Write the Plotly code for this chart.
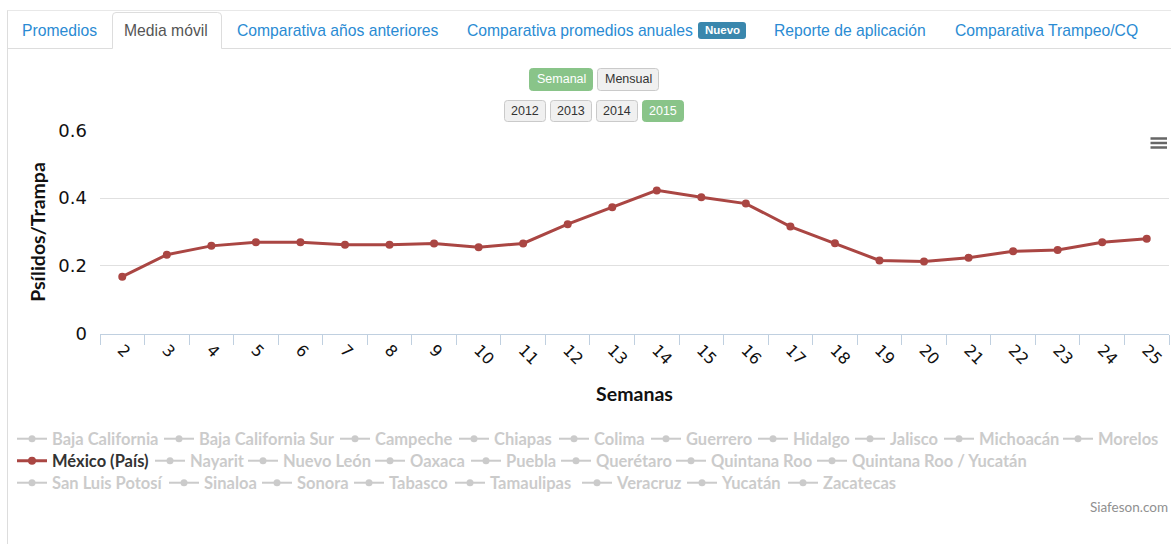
import plotly.graph_objects as go

# ---------------- data ----------------
weeks = [str(w) for w in range(2, 26)]
mexico_values = [0.168, 0.233, 0.259, 0.270, 0.270, 0.262, 0.262, 0.266, 0.255, 0.266,
                 0.323, 0.373, 0.423, 0.403, 0.384, 0.316, 0.267, 0.216, 0.213, 0.224,
                 0.243, 0.247, 0.270, 0.280]
y_tick_values = [0, 0.2, 0.4, 0.6]
y_tick_labels = ["0", "0.2", "0.4", "0.6"]

legend_row1 = ["Baja California", "Baja California Sur", "Campeche", "Chiapas", "Colima",
               "Guerrero", "Hidalgo", "Jalisco", "Michoacán", "Morelos"]
legend_row2 = ["México (País)", "Nayarit", "Nuevo León", "Oaxaca", "Puebla", "Querétaro",
               "Quintana Roo", "Quintana Roo / Yucatán"]
legend_row3 = ["San Luis Potosí", "Sinaloa", "Sonora", "Tabasco", "Tamaulipas", "Veracruz",
               "Yucatán", "Zacatecas"]
active_series = "México (País)"

tab_labels = ["Promedios", "Media móvil", "Comparativa años anteriores",
              "Comparativa promedios anuales", "Reporte de aplicación", "Comparativa Trampeo/CQ"]
period_buttons = ["Semanal", "Mensual"]
year_buttons = ["2012", "2013", "2014", "2015"]

# ---------------- layout helpers (pixel -> paper, margins are zero) ----------------
W, H = 1171, 544


def px(x):
    return x / W


def py(y):
    return 1 - y / H


def rrect(x0, y0, x1, y1, r=3):
    pts = [
        f"M {px(x0 + r)} {py(y0)}", f"L {px(x1 - r)} {py(y0)}",
        f"Q {px(x1)} {py(y0)} {px(x1)} {py(y0 + r)}", f"L {px(x1)} {py(y1 - r)}",
        f"Q {px(x1)} {py(y1)} {px(x1 - r)} {py(y1)}", f"L {px(x0 + r)} {py(y1)}",
        f"Q {px(x0)} {py(y1)} {px(x0)} {py(y1 - r)}", f"L {px(x0)} {py(y0 + r)}",
        f"Q {px(x0)} {py(y0)} {px(x0 + r)} {py(y0)}", "Z",
    ]
    return " ".join(pts)


RED = "#AA4643"
HIDDEN = "#999999"

fig = go.Figure()

# ---------------- series + legend (one small legend per entry, placed like the original) ----------------
legend_text_x = [
    [52, 199, 375, 494, 594, 686, 793, 890, 979, 1098],
    [52, 190, 283, 410, 506, 596, 711, 852],
    [52, 204, 297, 389, 490, 617, 722, 823],
]
legend_row_y = [439, 461, 483]

legends = {}
idx = 0
for row_names, row_x, row_y in zip([legend_row1, legend_row2, legend_row3], legend_text_x, legend_row_y):
    for name, tx in zip(row_names, row_x):
        key = "legend" if idx == 0 else f"legend{idx + 1}"
        active = name == active_series
        if active:
            fig.add_trace(go.Scatter(
                x=weeks, y=mexico_values, name=name, mode="lines+markers",
                line=dict(color=RED, width=3), marker=dict(color=RED, size=8),
                legend=key, hovertemplate="Semana %{x}<br>%{y:.3f}<extra>" + name + "</extra>",
            ))
        else:
            fig.add_trace(go.Scatter(
                x=[None], y=[None], name=name, mode="lines+markers", visible="legendonly",
                line=dict(color=HIDDEN, width=2), marker=dict(color=HIDDEN, size=7),
                legend=key,
            ))
        legends[key] = dict(
            x=px(tx - 40), xanchor="left", y=py(row_y), yanchor="middle",
            orientation="h", bgcolor="rgba(0,0,0,0)", borderwidth=0, itemwidth=30,
            font=dict(family="Lato", size=16.5, weight="bold",
                      color="#333333" if active else HIDDEN),
        )
        idx += 1

# ---------------- shapes (page chrome) ----------------
GRAYLINE = "#DDDDDD"
shapes = [
    dict(type="line", xref="paper", yref="paper", x0=px(7.5), x1=px(7.5), y0=py(10), y1=py(544),
         line=dict(color=GRAYLINE, width=1)),
    dict(type="line", xref="paper", yref="paper", x0=px(7.5), x1=px(1171), y0=py(10.5), y1=py(10.5),
         line=dict(color="#E8E8E8", width=1)),
    dict(type="line", xref="paper", yref="paper", x0=px(7.5), x1=px(1171), y0=py(48.5), y1=py(48.5),
         line=dict(color=GRAYLINE, width=1)),
    dict(type="path", xref="paper", yref="paper",
         path=(f"M {px(112.5)} {py(49)} L {px(112.5)} {py(16)} Q {px(112.5)} {py(12.5)} {px(116)} {py(12.5)} "
               f"L {px(217.5)} {py(12.5)} Q {px(221.5)} {py(12.5)} {px(221.5)} {py(16)} L {px(221.5)} {py(49)} Z"),
         fillcolor="white", line=dict(color="rgba(0,0,0,0)", width=0)),
    dict(type="path", xref="paper", yref="paper",
         path=(f"M {px(112.5)} {py(48.5)} L {px(112.5)} {py(16)} Q {px(112.5)} {py(12.5)} {px(116)} {py(12.5)} "
               f"L {px(217.5)} {py(12.5)} Q {px(221.5)} {py(12.5)} {px(221.5)} {py(16)} L {px(221.5)} {py(48.5)}"),
         line=dict(color=GRAYLINE, width=1)),
    dict(type="path", xref="paper", yref="paper", path=rrect(698, 22, 746, 39, 3),
         fillcolor="#3A87AD", line=dict(width=0)),
]

annotations = []
tab_x = [20, 122, 235, 465, 772, 953]
for label, tx in zip(tab_labels, tab_x):
    annotations.append(dict(
        text=label, xref="paper", yref="paper", x=px(tx), y=py(30.5), xanchor="left", yanchor="middle",
        showarrow=False, font=dict(family="Liberation Sans", size=15.7,
                                   color="#555555" if label == "Media móvil" else "#2A8BD3")))
annotations.append(dict(text="Nuevo", xref="paper", yref="paper", x=px(722), y=py(30.5),
                        xanchor="center", yanchor="middle", showarrow=False,
                        font=dict(family="Liberation Sans", size=11.5, color="white", weight="bold")))

GREEN = "#89C489"
btn_boxes = [(529, 593), (597, 659)]
for label, (x0, x1) in zip(period_buttons, btn_boxes):
    sel = label == "Semanal"
    shapes.append(dict(type="path", xref="paper", yref="paper", path=rrect(x0 + 0.5, 68.5, x1 - 0.5, 90.5, 3),
                       fillcolor=GREEN if sel else "#F0F0F0",
                       line=dict(color=GREEN if sel else "#CACACA", width=1)))
    annotations.append(dict(text=label, xref="paper", yref="paper", x=px((x0 + x1) / 2), y=py(79.5),
                            xanchor="center", yanchor="middle", showarrow=False,
                            font=dict(family="Liberation Sans", size=12.5,
                                      color="white" if sel else "#333333")))
year_boxes = [(504, 546), (550, 592), (596, 638), (642, 684)]
for label, (x0, x1) in zip(year_buttons, year_boxes):
    sel = label == "2015"
    shapes.append(dict(type="path", xref="paper", yref="paper", path=rrect(x0 + 0.5, 100.5, x1 - 0.5, 121.5, 3),
                       fillcolor=GREEN if sel else "#F0F0F0",
                       line=dict(color=GREEN if sel else "#CACACA", width=1)))
    annotations.append(dict(text=label, xref="paper", yref="paper", x=px((x0 + x1) / 2), y=py(111),
                            xanchor="center", yanchor="middle", showarrow=False,
                            font=dict(family="Liberation Sans", size=12.5,
                                      color="white" if sel else "#333333")))

# hamburger (export menu) icon
for yy in (138.5, 143, 147.5):
    shapes.append(dict(type="line", xref="paper", yref="paper", x0=px(1150.5), x1=px(1167), y0=py(yy), y1=py(yy),
                       line=dict(color="#666666", width=2.5)))

annotations.append(dict(text="Siafeson.com", xref="paper", yref="paper", x=px(1170), y=py(507),
                        xanchor="right", yanchor="middle", showarrow=False,
                        font=dict(family="Lato", size=13.5, color="#909090")))

fig.update_layout(
    width=W, height=H,
    margin=dict(l=0, r=0, t=0, b=0, pad=0, autoexpand=False),
    paper_bgcolor="white", plot_bgcolor="white",
    showlegend=True,
    shapes=shapes, annotations=annotations,
    **legends,
    xaxis=dict(
        domain=[px(100), px(1169)], type="category", categoryorder="array", categoryarray=weeks,
        range=[-0.5, len(weeks) - 0.5], automargin=False,
        showgrid=False, zeroline=False, showline=True, linecolor="#C0D0E0", linewidth=1,
        ticks="outside", tickson="boundaries", ticklen=10, tickcolor="#C0D0E0", tickwidth=1,
        tickangle=45, tickfont=dict(family="DejaVu Sans", size=16, color="#111111"),
        title=dict(text="Semanas", font=dict(family="Lato", size=19.5, weight="bold", color="#111111"),
                   standoff=19),
        fixedrange=True,
    ),
    yaxis=dict(
        domain=[py(333.5), py(130.5)], range=[0, 0.6], automargin=False,
        tickvals=y_tick_values, ticktext=y_tick_labels, ticklabelstandoff=12,
        showgrid=True, gridcolor="#E0E0E0", gridwidth=1, zeroline=False, showline=False,
        tickfont=dict(family="DejaVu Sans", size=18, color="#111111"),
        title=dict(text="Psílidos/Trampa", font=dict(family="Lato", size=19.5, weight="bold", color="#111111"),
                   standoff=7),
        fixedrange=True,
    ),
    hovermode="closest",
)

fig.write_html("out.html", config={"displayModeBar": False},
               post_script="document.body.style.margin='0';document.body.style.overflow='hidden';")
